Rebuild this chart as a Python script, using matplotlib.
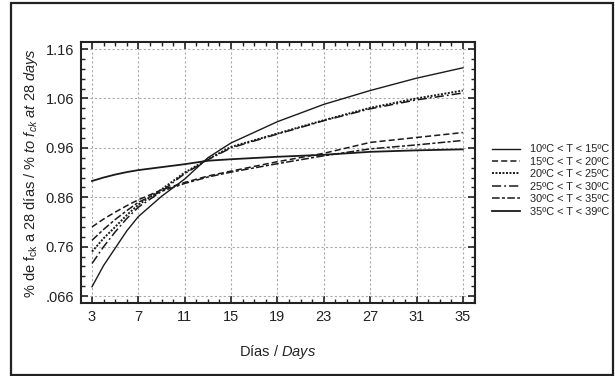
import matplotlib
matplotlib.use("Agg")
import matplotlib.pyplot as plt
from matplotlib.patches import Rectangle
from matplotlib.ticker import MultipleLocator

plt.rcParams['font.family'] = ['Liberation Sans', 'DejaVu Sans']
plt.rcParams['mathtext.fontset'] = 'custom'
plt.rcParams['mathtext.rm'] = 'Liberation Sans'
plt.rcParams['mathtext.it'] = 'Liberation Sans:italic'

# datos
dias = [3, 4, 5, 6, 7, 9, 11, 13, 15, 19, 23, 27, 31, 35]
t10_15 = [0.679, 0.722, 0.757, 0.792, 0.821, 0.862, 0.897, 0.940, 0.970, 1.013, 1.048, 1.076, 1.101, 1.122]
t15_20 = [0.800, 0.816, 0.830, 0.843, 0.855, 0.875, 0.890, 0.903, 0.913, 0.932, 0.949, 0.971, 0.981, 0.991]
t20_25 = [0.750, 0.777, 0.800, 0.824, 0.845, 0.876, 0.910, 0.937, 0.962, 0.989, 1.016, 1.041, 1.060, 1.076]
t25_30 = [0.726, 0.760, 0.790, 0.817, 0.840, 0.872, 0.908, 0.936, 0.960, 0.988, 1.015, 1.039, 1.057, 1.071]
t30_35 = [0.773, 0.795, 0.815, 0.833, 0.850, 0.872, 0.888, 0.901, 0.911, 0.928, 0.944, 0.958, 0.966, 0.975]
t35_39 = [0.893, 0.900, 0.906, 0.911, 0.915, 0.921, 0.927, 0.934, 0.937, 0.942, 0.946, 0.952, 0.955, 0.957]

etiquetas = ['10ºC < T < 15ºC', '15ºC < T < 20ºC', '20ºC < T < 25ºC',
             '25ºC < T < 30ºC', '30ºC < T < 35ºC', '35ºC < T < 39ºC']
xticks = [3, 7, 11, 15, 19, 23, 27, 31, 35]
yticks = [0.66, 0.76, 0.86, 0.96, 1.06, 1.16]
yticklabels = ['.066', '0.76', '0.86', '0.96', '1.06', '1.16']

fig = plt.figure(figsize=(6.15, 3.76), dpi=100)
ax = fig.add_axes([0.1317, 0.194, 0.6407, 0.694])

# marco exterior
fig.patches.append(Rectangle((0.018, 0.003), 0.978, 0.989, transform=fig.transFigure,
                             fill=False, edgecolor='#222222', linewidth=1.6))

series = [t10_15, t15_20, t20_25, t25_30, t30_35, t35_39]
estilos = ['-', (0, (4, 2)), (0, (1, 0.8)), (0, (6, 2, 1.2, 2)), (0, (5, 1.5, 2, 1.5)), '-']
anchos = [1.0, 1.1, 1.4, 1.1, 1.1, 1.3]
for vals, ls, lw, lab in zip(series, estilos, anchos, etiquetas):
    ax.plot(dias, vals, color='#1a1a1a', linestyle=ls, linewidth=lw, label=lab)

ax.set_xlim(2.05, 36.05)
ax.set_ylim(0.646, 1.174)
ax.set_xticks(xticks)
ax.set_yticks(yticks)
ax.set_yticklabels(yticklabels)
ax.xaxis.set_minor_locator(MultipleLocator(1))
ax.yaxis.set_minor_locator(MultipleLocator(0.02))
ax.tick_params(which='both', direction='in', top=True, right=True,
               labelsize=10.5, colors='#222222', pad=5)
ax.tick_params(which='major', length=5, width=1.2)
ax.tick_params(which='minor', length=3, width=1.0)
for s in ax.spines.values():
    s.set_linewidth(1.5)
    s.set_color('#222222')
ax.grid(True, which='major', linestyle=(0, (2, 2)), color='#aaaaaa', linewidth=0.8)

ax.set_xlabel(r'Días / $\it{Days}$', fontsize=10.5, color='#222222', labelpad=14)
ax.set_ylabel(r'% de f$_{\rm ck}$ a 28 días / $\it{\%\ to\ f_{ck}\ at\ 28\ days}$',
              fontsize=10.5, color='#222222', labelpad=4)

leg = fig.legend(loc='center left', bbox_to_anchor=(0.787, 0.52), frameon=False,
                 fontsize=7.9, handlelength=2.6, labelspacing=0.22, handletextpad=0.9,
                 borderpad=0.2, labelcolor='#222222')

fig.savefig('out.png', dpi=100)
